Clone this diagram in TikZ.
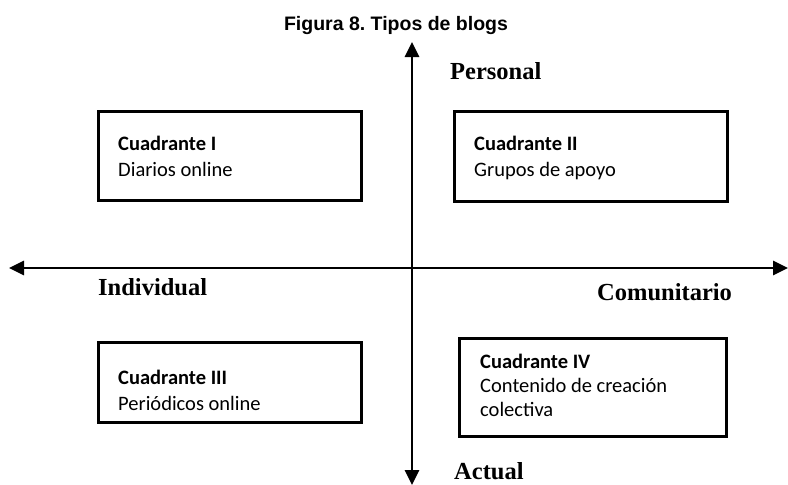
\documentclass[tikz,border=0pt]{standalone}
\usepackage{fontspec}
\setmainfont{Liberation Serif}
\newfontfamily\calib{Carlito}
\newfontfamily\titlefont{Liberation Sans}
\usetikzlibrary{arrows.meta}
\frenchspacing
\begin{document}
\begin{tikzpicture}[x=1pt,y=-1pt,
  quadbox/.style={draw=black, line width=2.8pt, inner sep=0pt, anchor=north west},
  axisline/.style={line width=2.8pt, {Triangle[width=14pt,length=15pt]}-{Triangle[width=14pt,length=15pt]}},
  axislabel/.style={inner sep=0pt, anchor=base west, font=\fontsize{24.5}{26}\selectfont\bfseries},
  qhead/.style={inner sep=0pt, anchor=base west, font=\calib\fontsize{20.5}{22}\selectfont\bfseries},
  qtext/.style={inner sep=0pt, anchor=base west, font=\calib\fontsize{20.5}{22}\selectfont},
  titlestyle/.style={inner sep=0pt, anchor=base, font=\titlefont\fontsize{19.5}{21}\selectfont\bfseries}]
\useasboundingbox (0,0) rectangle (788,485);
\node[titlestyle] (title) at (396,30) {Figura 8. Tipos de blogs};
% boxes
\node[quadbox, minimum width=263pt, minimum height=89pt] (b1) at (97,110) {};
\node[quadbox, minimum width=273pt, minimum height=90pt] (b2) at (453,110) {};
\node[quadbox, minimum width=263pt, minimum height=80pt] (b3) at (97,341) {};
\node[quadbox, minimum width=267pt, minimum height=98pt] (b4) at (458,337) {};
% box texts
\node[qhead] (h1) at (118,150) {Cuadrante I};
\node[qtext] (t1) at (118,176) {Diarios online};
\node[qhead] (h2) at (474,150) {Cuadrante II};
\node[qtext] (t2) at (474,176) {Grupos de apoyo};
\node[qhead] (h3) at (118,384) {Cuadrante III};
\node[qtext] (t3) at (118,410) {Periódicos online};
\node[qhead] (h4) at (480,368) {Cuadrante IV};
\node[qtext] (t4a) at (480,392) {Contenido de creación};
\node[qtext] (t4b) at (480,416) {colectiva};
% axes
\coordinate (W) at (9,268);
\coordinate (E) at (788,268);
\coordinate (N) at (412,42);
\coordinate (S) at (412,485);
\draw[axisline] (W) -- (E);
\draw[axisline] (S) -- (N);
% axis labels
\node[axislabel] (lp) at (450,79) {Personal};
\node[axislabel] (li) at (98,295) {Individual};
\node[axislabel] (lc) at (597,300) {Comunitario};
\node[axislabel] (la) at (454,479) {Actual};
\end{tikzpicture}
\end{document}
